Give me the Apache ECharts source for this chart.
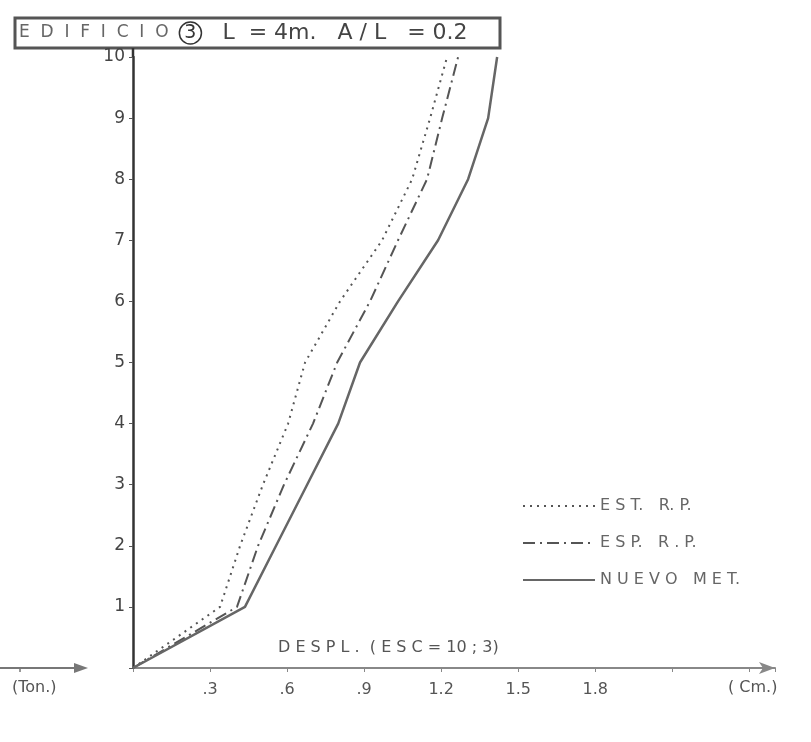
<!DOCTYPE html>
<html>
<head>
<meta charset="utf-8">
<script src="https://cdn.jsdelivr.net/npm/echarts@6/dist/echarts.min.js"></script>
<style>
html,body{margin:0;padding:0;background:#fff;}
#chart{width:811px;height:742px;}
</style>
</head>
<body>
<div id="chart"></div>
<script>
// Floor levels (y) and displacements in cm (x)
const levels = [0, 1, 2, 3, 4, 5, 6, 7, 8, 9, 10];
const estRP = [0, 0.339, 0.417, 0.506, 0.604, 0.670, 0.806, 0.970, 1.087, 1.157, 1.223];
const espRP = [0, 0.405, 0.487, 0.588, 0.701, 0.795, 0.923, 1.032, 1.145, 1.204, 1.266];
const nuevoMet = [0, 0.436, 0.557, 0.678, 0.799, 0.884, 1.032, 1.188, 1.305, 1.383, 1.418];
const seriesNames = ['E S T.   R. P.', 'E S P.   R . P.', 'N U E V O   M E T.'];
const xTickLabels = ['.3', '.6', '.9', '1.2', '1.5', '1.8'];

const toPairs = arr => levels.map((l, i) => [arr[i], l]);

const chart = echarts.init(document.getElementById('chart'));
const lineColor = '#555';
chart.setOption({
  backgroundColor: '#fff',
  animation: false,
  grid: { left: 133, right: 36, top: 57, bottom: 74 },
  xAxis: {
    type: 'value', min: 0, max: 2.5, interval: 0.3,
    splitLine: { show: false },
    axisLine: { lineStyle: { color: '#888', width: 2 }, symbol: ['none', 'arrow'], symbolSize: [9, 16] },
    axisTick: { length: 4, lineStyle: { color: '#888' } },
    axisLabel: {
      margin: 14, fontSize: 16, color: '#555', fontFamily: 'DejaVu Sans',
      formatter: v => {
        const idx = Math.round(v / 0.3) - 1;
        return (idx >= 0 && idx < xTickLabels.length) ? xTickLabels[idx] : '';
      }
    }
  },
  yAxis: {
    type: 'value', min: 0, max: 10, interval: 1,
    splitLine: { show: false },
    axisLine: { lineStyle: { color: '#333', width: 2.5 } },
    axisTick: { length: 4, lineStyle: { color: '#555' } },
    axisLabel: {
      margin: 8, fontSize: 17, color: '#444', fontFamily: 'DejaVu Sans',
      formatter: v => v === 0 ? '' : String(v)
    }
  },
  legend: {
    orient: 'vertical', left: 517, top: 493, itemWidth: 72, itemHeight: 12, itemGap: 21,
    textStyle: { fontSize: 16, color: '#666', fontFamily: 'DejaVu Sans' },
    itemStyle: { color: 'rgba(0,0,0,0)', borderColor: 'rgba(0,0,0,0)', borderWidth: 0 },
    data: seriesNames
  },
  series: [
    { name: seriesNames[0], type: 'line', symbol: 'none', data: toPairs(estRP),
      lineStyle: { color: lineColor, width: 2, type: [2, 5] }, itemStyle: { color: lineColor } },
    { name: seriesNames[1], type: 'line', symbol: 'none', data: toPairs(espRP),
      lineStyle: { color: lineColor, width: 2, type: [12, 5, 2, 5] }, itemStyle: { color: lineColor } },
    { name: seriesNames[2], type: 'line', symbol: 'none', data: toPairs(nuevoMet),
      lineStyle: { color: '#666', width: 2.5 }, itemStyle: { color: '#666' } }
  ],
  graphic: [
    { type: 'rect', shape: { x: 15, y: 18, width: 485, height: 30 },
      style: { fill: 'none', stroke: '#555', lineWidth: 3 } },
    { type: 'text', x: 19, y: 33,
      style: {
        text: '{a|E  D  I  F  I  C  I  O  }{c|3}{b|   L  = 4m.   A / L   = 0.2}',
        verticalAlign: 'middle',
        rich: {
          a: { fontSize: 17, fill: '#666', fontFamily: 'DejaVu Sans' },
          c: { fontSize: 19, fill: '#333', fontFamily: 'DejaVu Sans', borderColor: '#333', borderWidth: 1.5, borderRadius: 12, padding: [2, 5, 1, 5] },
          b: { fontSize: 22, fill: '#444', fontFamily: 'DejaVu Sans' }
        }
      } },
    { type: 'text', x: 278, y: 640,
      style: { text: 'D E S P L .  ( E S C = 10 ; 3)', fontSize: 16, fill: '#555', fontFamily: 'DejaVu Sans' } },
    { type: 'text', x: 12, y: 680,
      style: { text: '(Ton.)', fontSize: 16, fill: '#555', fontFamily: 'DejaVu Sans' } },
    { type: 'text', x: 728, y: 680,
      style: { text: '( Cm.)', fontSize: 16, fill: '#555', fontFamily: 'DejaVu Sans' } },
    { type: 'line', shape: { x1: 0, y1: 668, x2: 80, y2: 668 }, style: { stroke: '#777', lineWidth: 2 } },
    { type: 'polygon', shape: { points: [[88, 668], [74, 663], [74, 673]] }, style: { fill: '#777' } },
    { type: 'line', shape: { x1: 20, y1: 668, x2: 20, y2: 672 }, style: { stroke: '#777', lineWidth: 1.5 } },
    { type: 'line', shape: { x1: 133, y1: 57, x2: 133, y2: 48 }, style: { stroke: '#333', lineWidth: 2.5 } }
  ]
});
</script>
</body>
</html>
